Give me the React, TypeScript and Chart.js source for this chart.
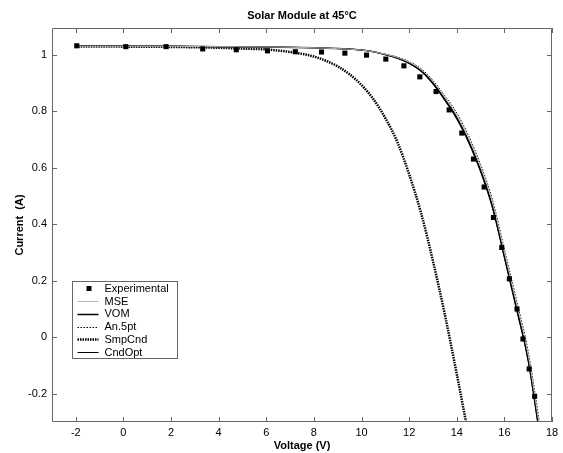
import React, { useEffect, useRef } from 'react';
import { Chart, registerables } from 'chart.js';

Chart.register(...registerables);

const chartTitle = 'Solar Module at 45°C';
const xAxisTitle = 'Voltage (V)';
const yAxisTitle = 'Current  (A)';
const xTickValues = [-2, 0, 2, 4, 6, 8, 10, 12, 14, 16, 18];
const yTickValues = [-0.2, 0, 0.2, 0.4, 0.6, 0.8, 1];
const seriesNames = ['Experimental', 'MSE', 'VOM', 'An.5pt', 'SmpCnd', 'CndOpt'];

const expV = [-1.96, 0.1, 1.79, 3.33, 4.74, 6.05, 7.22, 8.32, 9.3, 10.21, 11.02, 11.78, 12.45, 13.13, 13.68, 14.21, 14.7, 15.15, 15.54, 15.89, 16.21, 16.53, 16.78, 17.04, 17.27];
const expI = [1.032, 1.029, 1.029, 1.021, 1.018, 1.014, 1.011, 1.01, 1.006, 0.999, 0.985, 0.961, 0.922, 0.87, 0.805, 0.723, 0.631, 0.532, 0.424, 0.318, 0.207, 0.1, -0.006, -0.112, -0.209];

const curveV = [-2, 0, 2, 4, 6, 8, 9, 10, 10.5, 11, 11.5, 12, 12.5, 13, 13.5, 14, 14.5, 15, 15.5, 16, 16.5, 17, 17.5];
const vomI = [1.03, 1.03, 1.03, 1.029, 1.028, 1.025, 1.022, 1.017, 1.011, 1.001, 0.989, 0.971, 0.944, 0.9, 0.842, 0.778, 0.695, 0.592, 0.465, 0.288, 0.11, -0.078, -0.35];
const mseI = [1.03, 1.03, 1.03, 1.029, 1.028, 1.025, 1.022, 1.017, 1.011, 1.002, 0.991, 0.974, 0.948, 0.906, 0.85, 0.788, 0.706, 0.604, 0.478, 0.302, 0.124, -0.062, -0.33];
const an5I = [1.03, 1.03, 1.03, 1.029, 1.028, 1.025, 1.022, 1.017, 1.011, 1.002, 0.992, 0.976, 0.951, 0.91, 0.855, 0.794, 0.713, 0.612, 0.487, 0.312, 0.135, -0.05, -0.315];
const cndI = [1.03, 1.03, 1.03, 1.029, 1.028, 1.025, 1.022, 1.017, 1.011, 1.0, 0.988, 0.969, 0.941, 0.896, 0.838, 0.772, 0.688, 0.585, 0.456, 0.28, 0.1, -0.086, -0.36];

const smpV = [-2, 0, 2, 4, 5, 6, 7, 8, 8.5, 9, 9.5, 10, 10.5, 11, 11.5, 12, 12.5, 13, 13.5, 14, 14.5];
const smpI = [1.03, 1.029, 1.028, 1.025, 1.022, 1.019, 1.01, 0.994, 0.979, 0.959, 0.931, 0.893, 0.843, 0.776, 0.692, 0.577, 0.44, 0.27, 0.08, -0.13, -0.35];

const FONT = "'Liberation Sans', Arial, Helvetica, sans-serif";

const pts = (xs: number[], ys: number[]) => xs.map((x, i) => ({ x, y: ys[i] }));

const framePlugin = {
  id: 'frameTicks',
  afterDraw(chart: any) {
    const { ctx, chartArea } = chart;
    const { left, right, top, bottom } = chartArea;
    const xs = chart.scales.x;
    const ys = chart.scales.y;
    ctx.save();
    ctx.strokeStyle = '#666666';
    ctx.lineWidth = 1;
    ctx.beginPath();
    ctx.rect(left + 0.5, top + 0.5, right - left - 1, bottom - top - 1);
    ctx.stroke();
    const tl = 5;
    ctx.beginPath();
    xTickValues.forEach((v) => {
      const px = Math.round(xs.getPixelForValue(v)) + 0.5;
      ctx.moveTo(px, bottom);
      ctx.lineTo(px, bottom - tl);
      ctx.moveTo(px, top);
      ctx.lineTo(px, top + tl);
    });
    yTickValues.forEach((v) => {
      const py = Math.round(ys.getPixelForValue(v)) + 0.5;
      ctx.moveTo(left, py);
      ctx.lineTo(left + tl, py);
      ctx.moveTo(right, py);
      ctx.lineTo(right - tl, py);
    });
    ctx.stroke();

    // title
    ctx.fillStyle = '#000';
    ctx.font = `bold 11px ${FONT}`;
    ctx.textAlign = 'center';
    ctx.textBaseline = 'middle';
    ctx.fillText(chartTitle, (left + right) / 2, 16);

    // legend
    const lx = left + 20.5;
    const ly = bottom - 140.5;
    const lw = 105;
    const lh = 77;
    ctx.fillStyle = '#fff';
    ctx.fillRect(lx, ly, lw, lh);
    ctx.strokeStyle = '#666666';
    ctx.lineWidth = 1;
    ctx.strokeRect(lx, ly, lw, lh);
    const datasets = chart.data.datasets;
    datasets.forEach((ds: any, i: number) => {
      const cy = ly + 7 + i * 12.7;
      if (ds.showLine === false) {
        ctx.fillStyle = '#000';
        ctx.fillRect(lx + 14, cy - 2.5, 5, 5);
      } else {
        ctx.save();
        ctx.strokeStyle = ds.borderColor;
        ctx.lineWidth = ds.borderWidth;
        ctx.setLineDash(ds.borderDash || []);
        ctx.beginPath();
        ctx.moveTo(lx + 5, Math.round(cy) + 0.5);
        ctx.lineTo(lx + 26, Math.round(cy) + 0.5);
        ctx.stroke();
        ctx.restore();
      }
      ctx.fillStyle = '#000';
      ctx.font = `11px ${FONT}`;
      ctx.textAlign = 'left';
      ctx.textBaseline = 'middle';
      ctx.fillText(ds.label, lx + 32, cy + 0.5);
    });
    ctx.restore();
  },
};

export default function App() {
  const ref = useRef<HTMLCanvasElement | null>(null);

  useEffect(() => {
    document.body.style.margin = '0';
    const canvas = ref.current;
    if (!canvas) return;
    Chart.defaults.font.family = FONT;
    Chart.defaults.color = '#000';
    const lineBase = {
      showLine: true,
      pointRadius: 0,
      pointHoverRadius: 0,
      fill: false,
      cubicInterpolationMode: 'monotone' as const,
      borderCapStyle: 'butt' as const,
    };
    const chart = new Chart(canvas, {
      type: 'scatter',
      data: {
        datasets: [
          {
            label: seriesNames[0],
            data: pts(expV, expI),
            showLine: false,
            pointStyle: 'rect',
            pointRadius: 3.6,
            pointBackgroundColor: '#000',
            pointBorderWidth: 0,
            borderColor: '#000',
          },
          { ...lineBase, label: seriesNames[1], data: pts(curveV, mseI), borderColor: '#b4b4b4', borderWidth: 1 },
          { ...lineBase, label: seriesNames[2], data: pts(curveV, vomI), borderColor: '#000', borderWidth: 1.5 },
          { ...lineBase, label: seriesNames[3], data: pts(curveV, an5I), borderColor: '#000', borderWidth: 1, borderDash: [1.5, 1.5] },
          { ...lineBase, label: seriesNames[4], data: pts(smpV, smpI), borderColor: '#000', borderWidth: 2.5, borderDash: [1.5, 1] },
          { ...lineBase, label: seriesNames[5], data: pts(curveV, cndI), borderColor: '#000', borderWidth: 1 },
        ] as any,
      },
      options: {
        animation: false,
        responsive: false,
        devicePixelRatio: 1,
        layout: { padding: { left: 0, right: 11, top: 28, bottom: 0 } },
        plugins: { legend: { display: false }, tooltip: { enabled: false }, title: { display: false } },
        events: [],
        scales: {
          x: {
            type: 'linear',
            min: -3,
            max: 18,
            afterBuildTicks: (s: any) => {
              s.ticks = xTickValues.map((v) => ({ value: v }));
            },
            afterFit: (s: any) => {
              s.height = 31;
            },
            grid: { display: false, drawTicks: false },
            border: { display: false },
            ticks: { padding: 4, font: { size: 11, family: FONT }, color: '#000', maxRotation: 0, autoSkip: false },
            title: { display: true, text: xAxisTitle, font: { size: 11, weight: 'bold', family: FONT }, color: '#000', padding: { top: 0, bottom: 0 } },
          },
          y: {
            type: 'linear',
            min: -0.3,
            max: 1.095,
            afterBuildTicks: (s: any) => {
              s.ticks = yTickValues.map((v) => ({ value: v }));
            },
            afterFit: (s: any) => {
              s.width = 52;
            },
            grid: { display: false, drawTicks: false },
            border: { display: false },
            ticks: {
              padding: 5,
              font: { size: 11, family: FONT },
              color: '#000',
              autoSkip: false,
              callback: (v: any) => String(Math.round(Number(v) * 10) / 10),
            },
            title: { display: true, text: yAxisTitle, font: { size: 11, weight: 'bold', family: FONT }, color: '#000', padding: { top: 13, bottom: 0 } },
          },
        },
      } as any,
      plugins: [framePlugin],
    });
    return () => chart.destroy();
  }, []);

  return (
    <div style={{ position: 'fixed', left: 0, top: 0, width: 563, height: 453, background: '#fff' }}>
      <canvas ref={ref} width={563} height={453} style={{ display: 'block' }} />
    </div>
  );
}
